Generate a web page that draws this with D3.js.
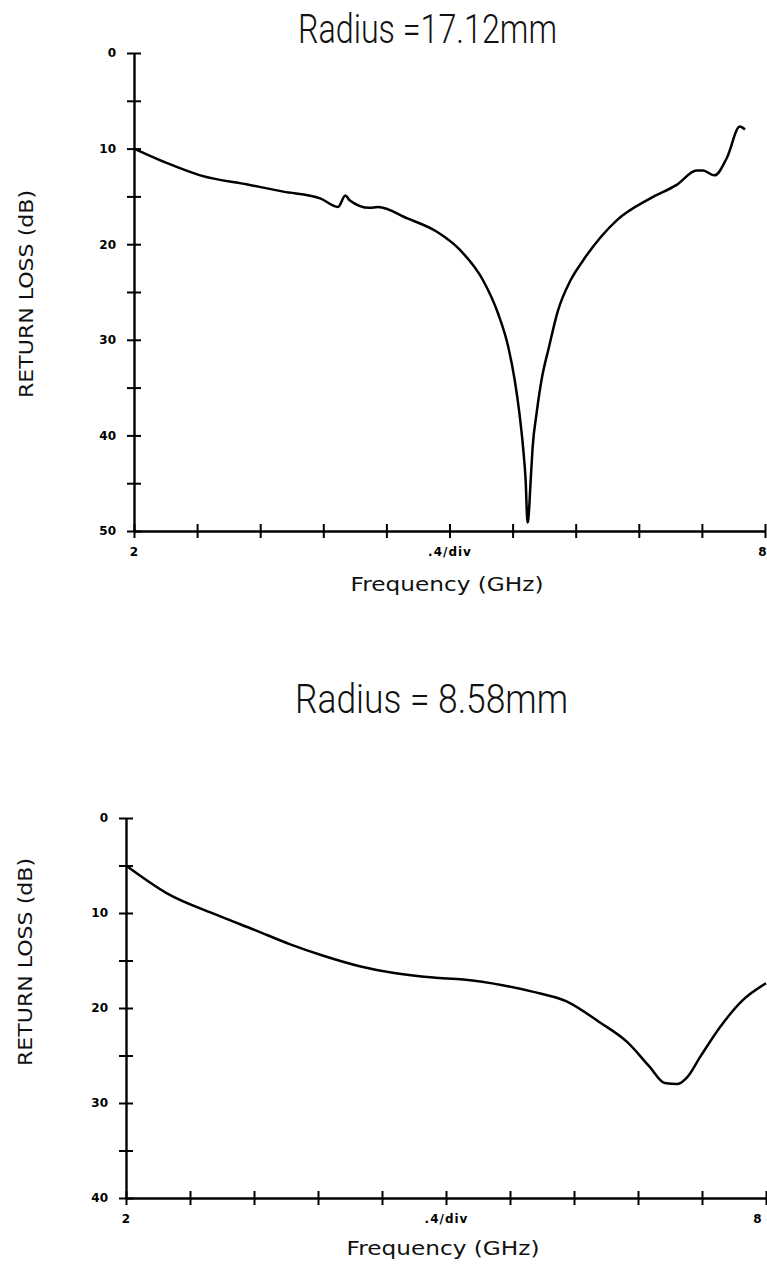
<!DOCTYPE html>
<html>
<head>
<meta charset="utf-8">
<script src="https://cdn.jsdelivr.net/npm/d3@7"></script>
<style>
  body { margin: 0; background: #fff; }
  svg { display: block; }
  .tick text { font-family: "DejaVu Sans", sans-serif; font-weight: bold; font-size: 12px; fill: #000; }
  .axis-title { font-family: "DejaVu Sans", sans-serif; font-size: 20px; fill: #111; }
  .radius { font-family: Roboto, "Noto Sans", sans-serif; font-weight: 300; fill: #111; }
</style>
</head>
<body>
<div id="chart"></div>
<script>
// Declare constants
const FRAME_WIDTH = 767;
const FRAME_HEIGHT = 1266;

// data: frequency (GHz) and return loss (dB)
const topFreq = [2.00, 2.31, 2.63, 3.10, 3.42, 3.77, 3.94, 4.01, 4.05, 4.24, 4.32, 4.60, 4.88, 5.10,
                 5.32, 5.46, 5.56, 5.62, 5.665, 5.70, 5.724, 5.742, 5.748, 5.772, 5.79, 5.828, 5.875,
                 5.945, 6.03, 6.15, 6.27, 6.59, 6.91, 7.16, 7.35, 7.41, 7.52, 7.64, 7.76, 7.81];
const topLoss = [10.0, 11.5, 12.8, 13.8, 14.5, 15.2, 16.1, 14.9, 15.4, 16.2, 16.1, 17.3, 18.7, 20.6,
                 23.8, 27.2, 30.8, 34.2, 37.7, 41.3, 44.7, 49.1, 48.9, 44.7, 41.3, 37.7, 34.2,
                 30.8, 27.0, 23.8, 21.7, 17.5, 15.2, 13.8, 12.3, 12.3, 12.8, 10.9, 7.7, 8.0];

const bottomFreq = [2.00, 2.38, 2.85, 3.21, 3.54, 3.85, 4.19, 4.50, 4.88, 5.16, 5.53, 5.82, 6.13,
                    6.44, 6.70, 6.91, 7.05, 7.17, 7.26, 7.38, 7.57, 7.78, 8.00];
const bottomLoss = [5.0, 7.9, 10.2, 11.8, 13.3, 14.5, 15.6, 16.3, 16.8, 17.0, 17.6, 18.3, 19.3,
                    21.5, 23.6, 26.2, 27.9, 28.0, 27.3, 25.2, 22.0, 19.2, 17.4];

// axis ticks and labels
const xTicks = d3.range(0, 11).map(i => 2 + i * 0.6);
const xTickLabels = {0: "2", 5: ".4/div", 10: "8"};
const topYTicks = d3.range(0, 51, 5);
const bottomYTicks = d3.range(0, 41, 5);
const titles = ["Radius =17.12mm", "Radius = 8.58mm"];
const xTitle = "Frequency (GHz)";
const yTitle = "RETURN LOSS (dB)";

const FRAME = d3.select("#chart")
                .append("svg")
                  .attr("width", FRAME_WIDTH)
                  .attr("height", FRAME_HEIGHT);

// draws one panel of the sweep
function panel(opts) {

  const X_SCALE = d3.scaleLinear()
                    .domain([2, 8])
                    .range([opts.left, opts.right]);
  const Y_SCALE = d3.scaleLinear()
                    .domain([0, opts.maxY])
                    .range([opts.top, opts.bottom]);

  // title
  FRAME.append("text")
        .attr("class", "radius")
        .attr("x", opts.titleX)
        .attr("y", opts.titleY)
        .attr("font-size", 40)
        .attr("textLength", opts.titleW)
        .attr("lengthAdjust", "spacingAndGlyphs")
        .text(opts.title);

  // y axis, ticks cross the line
  const yAxis = FRAME.append("g")
        .attr("transform", "translate(" + opts.left + ",0)")
        .call(d3.axisLeft(Y_SCALE)
                .tickValues(opts.yTicks)
                .tickFormat(d => d % 10 === 0 ? d : "")
                .tickSizeInner(6)
                .tickSizeOuter(0)
                .tickPadding(12));
  yAxis.selectAll(".tick line").attr("x1", -7).attr("x2", 7);

  // x axis
  const xAxis = FRAME.append("g")
        .attr("transform", "translate(0," + opts.bottom + ")")
        .call(d3.axisBottom(X_SCALE)
                .tickValues(xTicks)
                .tickFormat((d, i) => xTickLabels[i] || "")
                .tickSizeInner(6)
                .tickSizeOuter(0)
                .tickPadding(10));
  xAxis.selectAll(".tick line").attr("y1", -7).attr("y2", 7);
  xAxis.selectAll(".tick text").attr("letter-spacing", 1);
  // last label sits inside the page edge
  xAxis.selectAll(".tick text")
        .filter((d, i) => i === xTicks.length - 1)
          .attr("text-anchor", "end")
          .attr("letter-spacing", 0)
          .attr("x", opts.endLabelDx);

  FRAME.selectAll(".domain, .tick line")
        .attr("stroke", "#000")
        .attr("stroke-width", 2.4);
  FRAME.selectAll(".tick line").attr("stroke-width", 2);

  // curve
  const pts = opts.freq.map((f, i) => [f, opts.loss[i]]);
  FRAME.append("path")
        .datum(pts)
        .attr("fill", "none")
        .attr("stroke", "#000")
        .attr("stroke-width", 2.5)
        .attr("stroke-linejoin", "round")
        .attr("d", d3.line()
                      .x(d => X_SCALE(d[0]))
                      .y(d => Y_SCALE(d[1]))
                      .curve(d3.curveMonotoneX));

  // axis titles
  FRAME.append("text")
        .attr("class", "axis-title")
        .attr("x", opts.xTitleX)
        .attr("y", opts.xTitleY)
        .attr("text-anchor", "middle")
        .attr("textLength", 193)
        .attr("lengthAdjust", "spacingAndGlyphs")
        .text(xTitle);

  FRAME.append("text")
        .attr("class", "axis-title")
        .attr("transform", "translate(" + opts.yTitleX + "," + opts.yTitleY + ") rotate(-90)")
        .attr("text-anchor", "middle")
        .attr("textLength", 208)
        .attr("lengthAdjust", "spacingAndGlyphs")
        .text(yTitle);
}

panel({left: 134, right: 765, top: 53, bottom: 531, maxY: 50, yTicks: topYTicks,
       freq: topFreq, loss: topLoss, title: titles[0], titleX: 298, titleY: 43, titleW: 259,
       xTitleX: 447, xTitleY: 591, yTitleX: 33, yTitleY: 294, endLabelDx: 1});

panel({left: 126, right: 766, top: 818, bottom: 1198, maxY: 40, yTicks: bottomYTicks,
       freq: bottomFreq, loss: bottomLoss, title: titles[1], titleX: 295, titleY: 713, titleW: 273,
       xTitleX: 443, xTitleY: 1255, yTitleX: 32, yTitleY: 962, endLabelDx: -5});
</script>
</body>
</html>
